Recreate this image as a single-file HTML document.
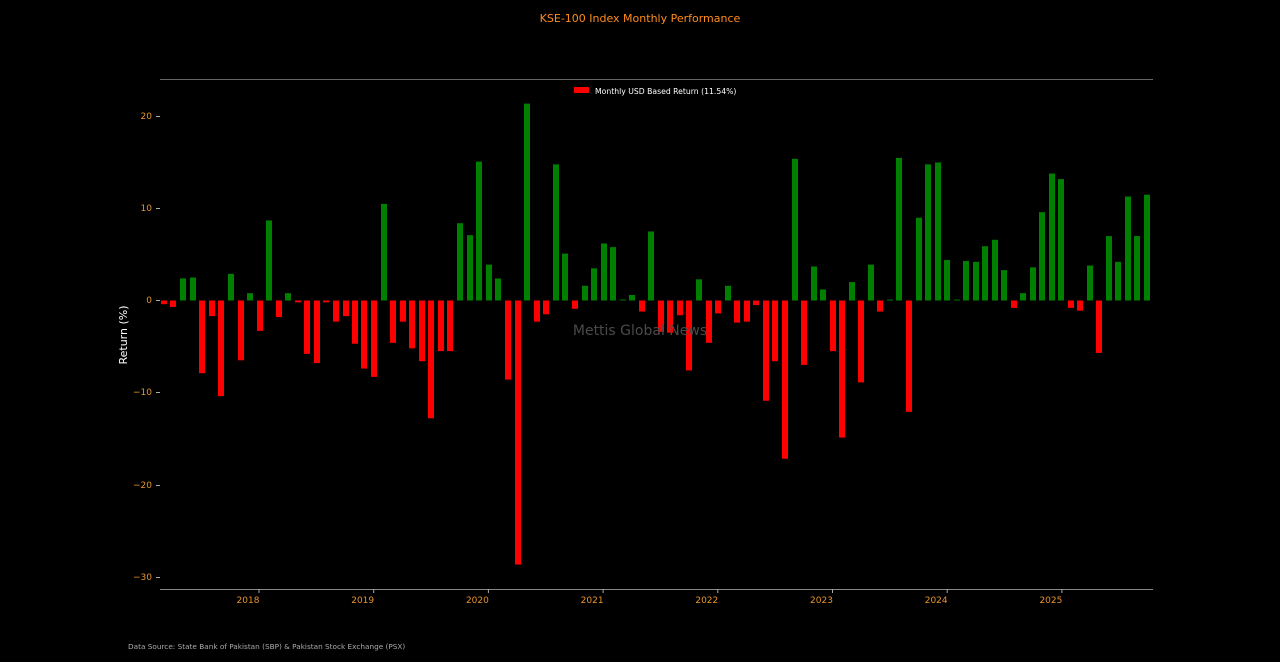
<!DOCTYPE html>
<html><head><meta charset="utf-8"><style>
html,body{margin:0;padding:0;background:#000;width:1280px;height:662px;overflow:hidden}
svg{display:block}
text{font-family:"DejaVu Sans","Liberation Sans",sans-serif}
</style></head><body>
<svg id="c" width="1280" height="662" viewBox="0 0 1280 662" xmlns="http://www.w3.org/2000/svg">
<rect width="1280" height="662" fill="#000"/>
<text x="640" y="22" fill="#ff8c1a" font-size="11" text-anchor="middle">KSE-100 Index Monthly Performance</text>
<line x1="160" y1="79.5" x2="1153" y2="79.5" stroke="#666" stroke-width="1"/>
<line x1="160" y1="589.5" x2="1153" y2="589.5" stroke="#888" stroke-width="1"/>
<g id="bars"></g>
<text x="640" y="335" fill="#4a4a4a" font-size="14" text-anchor="middle">Mettis Global News</text>
<rect x="574" y="87" width="15" height="6" fill="#ff0000"/>
<text x="595" y="94" fill="#fff" font-size="7.7">Monthly USD Based Return (11.54%)</text>
<g fill="#e8932a" font-size="9" text-anchor="end">
<text x="152" y="119">20</text><text x="152" y="211">10</text><text x="152" y="303">0</text>
<text x="152" y="395">−10</text><text x="152" y="488">−20</text><text x="152" y="580">−30</text>
</g>
<g stroke="#aaa" stroke-width="1">
<line x1="156" y1="116.5" x2="160" y2="116.5"/><line x1="156" y1="208.5" x2="160" y2="208.5"/>
<line x1="156" y1="300.5" x2="160" y2="300.5"/><line x1="156" y1="392.5" x2="160" y2="392.5"/>
<line x1="156" y1="485.5" x2="160" y2="485.5"/><line x1="156" y1="577.5" x2="160" y2="577.5"/>
</g>
<g id="xt" fill="#e8932a" font-size="9" text-anchor="middle"></g>
<text transform="translate(127,335) rotate(-90)" fill="#fff" font-size="11" text-anchor="middle">Return (%)</text>
<text x="128" y="649" fill="#aaa" font-size="7.3">Data Source: State Bank of Pakistan (SBP) &amp; Pakistan Stock Exchange (PSX)</text>
</svg>
<script>
var d=[[162,-0.4],[171,-0.7],[181,2.4],[191,2.5],[200,-7.9],[210,-1.7],[219,-10.4],[229,2.9],[239,-6.5],[248,0.8],[258,-3.3],[267,8.7],[277,-1.8],[286,0.8],[296,-0.2],[305,-5.8],[315,-6.8],[324,-0.2],[334,-2.3],[344,-1.7],[353,-4.7],[362,-7.4],[372,-8.3],[382,10.5],[391,-4.6],[401,-2.3],[410,-5.2],[420,-6.6],[429,-12.8],[439,-5.5],[448,-5.5],[458,8.4],[468,7.1],[477,15.1],[487,3.9],[496,2.4],[506,-8.6],[516,-28.7],[525,21.4],[535,-2.3],[544,-1.5],[554,14.8],[563,5.1],[573,-0.9],[583,1.6],[592,3.5],[602,6.2],[611,5.8],[621,0.1],[630,0.6],[640,-1.2],[649,7.5],[659,-3.4],[668,-3.5],[678,-1.6],[687,-7.6],[697,2.3],[707,-4.6],[716,-1.4],[726,1.6],[735,-2.4],[745,-2.3],[754,-0.5],[764,-10.9],[773,-6.6],[783,-17.2],[793,15.4],[802,-7.0],[812,3.7],[821,1.2],[831,-5.5],[840,-14.9],[850,2.0],[859,-8.9],[869,3.9],[878,-1.2],[888,0.1],[897,15.5],[907,-12.1],[917,9.0],[926,14.8],[936,15.0],[945,4.4],[955,0.1],[964,4.3],[974,4.2],[983,5.9],[993,6.6],[1002,3.3],[1012,-0.8],[1021,0.8],[1031,3.6],[1040,9.6],[1050,13.8],[1059,13.2],[1069,-0.8],[1078,-1.1],[1088,3.8],[1097,-5.7],[1107,7.0],[1116,4.2],[1126,11.3],[1135,7.0],[1145,11.5]];
var ns="http://www.w3.org/2000/svg",g=document.getElementById("bars");
d.forEach(function(p){var r=document.createElementNS(ns,"rect");var v=p[1],h=Math.abs(v)*9.2;
r.setAttribute("x",p[0]-1);r.setAttribute("width",6);r.setAttribute("y",v>=0?300.5-h:300.5);r.setAttribute("height",Math.max(h,0.8));
r.setAttribute("fill",v>=0?"#008000":"#ff0000");g.appendChild(r);});
var xt=document.getElementById("xt");
for(var i=0;i<8;i++){var x=248+i*114.7;var t=document.createElementNS(ns,"text");t.setAttribute("x",x);t.setAttribute("y",603);t.textContent=2018+i;xt.appendChild(t);
var l=document.createElementNS(ns,"line");l.setAttribute("x1",x+11);l.setAttribute("x2",x+11);l.setAttribute("y1",589);l.setAttribute("y2",593);l.setAttribute("stroke","#aaa");document.getElementById("c").appendChild(l);}
</script>
</body></html>
